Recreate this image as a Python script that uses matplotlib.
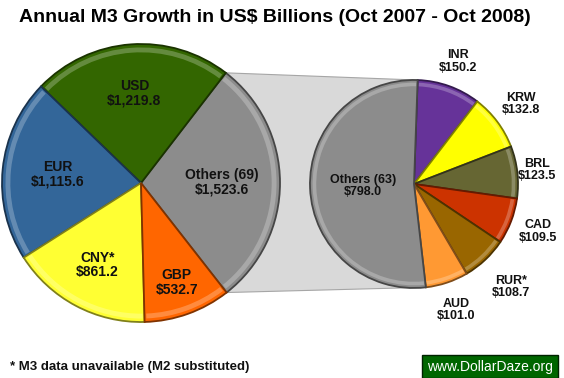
import matplotlib

matplotlib.use("Agg")

import matplotlib.colors as mcolors
import matplotlib.pyplot as plt
import numpy as np
from matplotlib.patches import Polygon, Wedge

plt.rcParams["font.family"] = ["Liberation Sans", "DejaVu Sans"]

# main pie (counter-clockwise from Others)
main_labels = ["Others (69)", "USD", "EUR", "CNY*", "GBP"]
main_values = [1523.6, 1219.8, 1115.6, 861.2, 532.7]
main_colors = ["#8C8C8C", "#336600", "#336699", "#FFFF33", "#FF6600"]

# breakdown of "Others (69)" (clockwise from INR)
detail_labels = ["INR", "KRW", "BRL", "CAD", "RUR*", "AUD", "Others (63)"]
detail_values = [150.2, 132.8, 123.5, 109.5, 108.7, 101.0, 798.0]
detail_colors = ["#663399", "#FFFF00", "#666633", "#CC3300", "#996600", "#FF9933", "#8C8C8C"]

TITLE = "Annual M3 Growth in US$ Billions (Oct 2007 - Oct 2008)"
FOOTNOTE = "* M3 data unavailable (M2 substituted)"
CREDIT = "www.DollarDaze.org"

W, H = 564, 378
MAIN_C, MAIN_R = (141, 195), 139
DET_C, DET_R = (414, 194), 104
main_label_r = [0.58, 0.65, 0.60, 0.67, 0.76]
det_label_r = [1.25, 1.28, 1.19, 1.28, 1.36, 1.28, 0.49]


def shade(color, factor):
    rgb = np.array(mcolors.to_rgb(color))
    if factor < 1:
        return tuple(rgb * factor)
    return tuple(rgb + (1 - rgb) * (factor - 1))


def bevel(ax, wedges, center, radius):
    for w in wedges:
        base = w.get_facecolor()
        w.set_edgecolor(shade(base[:3], 0.5))
        w.set_linewidth(1.3)
        band = Wedge(center, radius * 0.975, w.theta1 + 0.8, w.theta2 - 0.8,
                     width=radius * 0.035, facecolor=shade(base[:3], 1.35),
                     edgecolor="none", alpha=0.7, zorder=3)
        ax.add_patch(band)


def place_labels(ax, wedges, labels, values, center, radius, dists, size):
    for w, lab, val, d in zip(wedges, labels, values, dists):
        mid = np.deg2rad((w.theta1 + w.theta2) / 2)
        x = center[0] + d * radius * np.cos(mid)
        y = center[1] + d * radius * np.sin(mid)
        ax.text(x, y, f"{lab}\n${val:,.1f}", ha="center", va="center",
                fontsize=size, fontweight="bold", color="#111111",
                linespacing=1.05, zorder=5)


fig = plt.figure(figsize=(W / 100, H / 100), dpi=100)
ax = fig.add_axes([0, 0, 1, 1])

main_wedges, _ = ax.pie(main_values, colors=main_colors, startangle=-52,
                        counterclock=True, center=MAIN_C, radius=MAIN_R,
                        wedgeprops={"zorder": 2})
det_wedges, _ = ax.pie(detail_values, colors=detail_colors, startangle=88,
                       counterclock=False, center=DET_C, radius=DET_R,
                       wedgeprops={"zorder": 2})

# connector between the "Others" slice and the breakdown pie
o = main_wedges[0]
d = det_wedges[-1]
pts = []
for cx, cy, r, ang in [(MAIN_C[0], MAIN_C[1], MAIN_R, o.theta2),
                       (DET_C[0], DET_C[1], DET_R, d.theta1),
                       (DET_C[0], DET_C[1], DET_R, d.theta2),
                       (MAIN_C[0], MAIN_C[1], MAIN_R, o.theta1)]:
    a = np.deg2rad(ang)
    pts.append((cx + r * np.cos(a), cy + r * np.sin(a)))
ax.add_patch(Polygon(pts, closed=True, facecolor="#D9D9D9", edgecolor="#A6A6A6",
                     linewidth=0.8, zorder=1))

bevel(ax, main_wedges, MAIN_C, MAIN_R)
bevel(ax, det_wedges, DET_C, DET_R)

place_labels(ax, main_wedges, main_labels, main_values, MAIN_C, MAIN_R, main_label_r, 10)
place_labels(ax, det_wedges, detail_labels, detail_values, DET_C, DET_R, det_label_r, 9)

ax.text(275, 360, TITLE, ha="center", va="center", fontsize=14, fontweight="bold",
        color="black")
ax.text(10, 11, FOOTNOTE, ha="left", va="center", fontsize=9.5, fontweight="bold",
        color="#111111")
ax.text(490, 11.5, CREDIT, ha="center", va="center", fontsize=10, color="white",
        bbox={"boxstyle": "square,pad=0.35", "facecolor": "#006600", "edgecolor": "#002200",
              "linewidth": 1})

ax.set_xlim(0, W)
ax.set_ylim(0, H)
ax.axis("off")

fig.savefig("out.png", dpi=100)
plt.close(fig)
